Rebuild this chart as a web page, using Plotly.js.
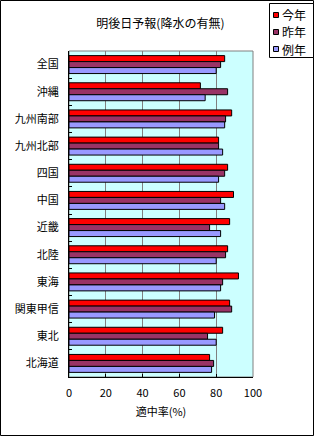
<!DOCTYPE html>
<html>
<head>
<meta charset="utf-8">
<script src="https://cdn.plot.ly/plotly-3.0.1.min.js"></script>
<style>
html,body{margin:0;padding:0;background:#fff;}
#chart{width:314px;height:436px;}
</style>
</head>
<body>
<div id="chart"></div>
<script>
// ---- data (top to bottom as shown) ----
var categories = ['全国','沖縄','九州南部','九州北部','四国','中国','近畿','北陸','東海','関東甲信','東北','北海道'];
var seriesNames = ['今年','昨年','例年'];
var thisYear  = [84.6, 71.4, 88.4, 81.3, 86.2, 89.4, 87.3, 86.2, 92.1, 87.3, 83.5, 76.4];
var lastYear  = [82.4, 86.2, 85.1, 81.3, 84.6, 82.4, 76.4, 85.1, 83.5, 88.4, 75.3, 78.6];
var normalYear= [80.0, 74.0, 84.6, 83.5, 81.3, 84.6, 82.4, 80.0, 82.4, 79.1, 80.0, 77.5];
var xTickVals = [0, 20, 40, 60, 80, 100];
var titleText = '明後日予報(降水の有無)';
var xTitleText = '適中率(%)';

var colors = ['#ff0000', '#993366', '#9999ff'];
var font = '"Noto Sans CJK JP", "Noto Sans", sans-serif';

// plot-area geometry in page pixels
var W = 314, H = 436;
var L = 69, R = 253, T = 51, B = 377;
function px(x){ return (x - L) / (R - L); }
function py(y){ return (B - y) / (B - T); }

var values = [thisYear, lastYear, normalYear];
var traces = values.map(function(v, i){
  return {
    type: 'bar', orientation: 'h',
    y: categories, x: v, name: seriesNames[i],
    marker: {color: colors[i], line: {color: '#000', width: 1}},
    hoverinfo: 'x+y+name'
  };
});

var shapes = [
  // plot area border (gray)
  {type:'rect', xref:'paper', yref:'paper', x0:0, x1:1, y0:0, y1:1,
   line:{color:'#808080', width:1}, layer:'below'},
  // outer chart border
  {type:'rect', xref:'paper', yref:'paper', x0:px(0.5), x1:px(W-0.5), y0:py(0.5), y1:py(H-0.5),
   line:{color:'#000', width:1}},
  // legend box
  {type:'rect', xref:'paper', yref:'paper', x0:px(269.5), x1:px(313.5), y0:py(3.5), y1:py(57.5),
   line:{color:'#000', width:1}, fillcolor:'#fff'}
];
var annotations = [];
var legendY = [15, 32, 49];
seriesNames.forEach(function(n, i){
  var c = legendY[i];
  shapes.push({type:'rect', xref:'paper', yref:'paper',
    x0:px(273.5), x1:px(278.5), y0:py(c-2.5), y1:py(c+2.5),
    line:{color:'#000', width:1}, fillcolor:colors[i]});
  annotations.push({xref:'paper', yref:'paper', x:px(280), y:py(c),
    xanchor:'left', yanchor:'middle', text:n, showarrow:false,
    font:{family:font, size:12, color:'#000'}});
});

var layout = {
  width: W, height: H,
  margin: {l: L, r: W - R, t: T, b: H - B, pad: 0},
  paper_bgcolor: '#fff',
  plot_bgcolor: '#ccffff',
  showlegend: false,
  barmode: 'group',
  bargap: 0.34,
  bargroupgap: 0,
  font: {family: font, size: 11, color: '#000'},
  title: {text: titleText, x: 156 / W, y: 1 - 24 / H, xref: 'paper', yref: 'container',
          xanchor: 'center', yanchor: 'middle', font: {family: font, size: 12, color: '#000'}},
  xaxis: {
    range: [0, 100], tickvals: xTickVals, ticktext: xTickVals.map(String),
    showgrid: true, gridcolor: '#808080', gridwidth: 1,
    showline: true, linecolor: '#000', linewidth: 1,
    ticks: 'inside', ticklen: 3, tickcolor: '#000', tickwidth: 1,
    ticklabelstandoff: 6,
    zeroline: false, fixedrange: true,
    tickfont: {family: font, size: 11, color: '#000'},
    title: {text: xTitleText, standoff: 9, font: {family: font, size: 11, color: '#000'}}
  },
  yaxis: {
    type: 'category', autorange: 'reversed',
    showgrid: false, showline: true, linecolor: '#000', linewidth: 1,
    ticks: 'inside', ticklen: 3, tickcolor: '#000', tickwidth: 1,
    tickson: 'boundaries', ticklabelstandoff: 7,
    zeroline: false, fixedrange: true,
    tickfont: {family: font, size: 11, color: '#000'}
  },
  shapes: shapes,
  annotations: annotations
};

Plotly.newPlot('chart', traces, layout, {displayModeBar: false, staticPlot: true});
</script>
</body>
</html>
